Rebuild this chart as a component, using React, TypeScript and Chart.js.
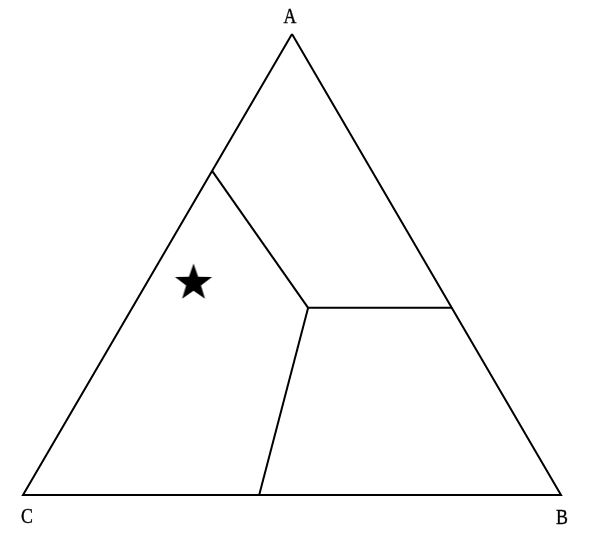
import React, { useEffect, useRef } from "react";
import { Chart, registerables } from "chart.js";

Chart.register(...registerables);

// Vertex labels of the ternary diagram (order: A top, B bottom-right, C bottom-left)
const vertexLabels = ["A", "B", "C"];
// Ternary compositions [a, b, c]
const vertices: number[][] = [
  [1, 0, 0],
  [0, 1, 0],
  [0, 0, 1],
];
// Triple junction of the phase boundaries
const junction: number[] = [0.406, 0.327, 0.267];
// End points of the three boundaries on the triangle edges
const boundaryEnds: number[][] = [
  [0.703, 0, 0.297],
  [0.406, 0.594, 0],
  [0, 0.439, 0.561],
];
// Starred composition
const starPoint: number[] = [0.46, 0.087, 0.453];

const H = Math.sqrt(3) / 2;

function toXY(p: number[]) {
  const [a, b, c] = p;
  const s = a + b + c;
  return { x: (b + a / 2) / s, y: (a * H) / s };
}

function makeStar(): HTMLCanvasElement {
  const size = 44;
  const cv = document.createElement("canvas");
  cv.width = size;
  cv.height = size;
  const ctx = cv.getContext("2d")!;
  const cx = size / 2;
  const cy = size / 2;
  const R = 19.5;
  const r = R * 0.4;
  ctx.beginPath();
  for (let i = 0; i < 10; i++) {
    const ang = -Math.PI / 2 + (i * Math.PI) / 5;
    const rad = i % 2 === 0 ? R : r;
    const px = cx + rad * Math.cos(ang);
    const py = cy + rad * Math.sin(ang);
    if (i === 0) ctx.moveTo(px, py);
    else ctx.lineTo(px, py);
  }
  ctx.closePath();
  ctx.fillStyle = "#000";
  ctx.fill();
  return cv;
}

const labelOffsets = [
  { dx: -2, dy: -17 },
  { dx: 1, dy: 23 },
  { dx: 4, dy: 22 },
];

const vertexLabelPlugin = {
  id: "vertexLabels",
  afterDatasetsDraw(chart: any) {
    const { ctx, scales } = chart;
    ctx.save();
    ctx.fillStyle = "#000";
    ctx.font = "500 21px 'Liberation Serif', serif";
    ctx.textAlign = "center";
    ctx.textBaseline = "middle";
    vertexLabels.forEach((lab, i) => {
      const p = toXY(vertices[i]);
      const px = scales.x.getPixelForValue(p.x) + labelOffsets[i].dx;
      const py = scales.y.getPixelForValue(p.y) + labelOffsets[i].dy;
      ctx.save();
      ctx.translate(px, py);
      ctx.scale(0.85, 1);
      ctx.fillText(lab, 0, 0);
      ctx.lineWidth = 0.4;
      ctx.strokeStyle = "#000";
      ctx.strokeText(lab, 0, 0);
      ctx.restore();
    });
    ctx.restore();
  },
};

export default function App() {
  const ref = useRef<HTMLCanvasElement | null>(null);

  useEffect(() => {
    if (!ref.current) return;
    const lineStyle = {
      showLine: true,
      pointRadius: 0,
      borderColor: "#000",
      borderWidth: 2,
      fill: false,
      clip: false as any,
    };
    const datasets: any[] = [
      {
        ...lineStyle,
        data: [...vertices, vertices[0]].map(toXY),
      },
      ...boundaryEnds.map((e) => ({
        ...lineStyle,
        data: [toXY(junction), toXY(e)],
      })),
      {
        data: [toXY(starPoint)],
        showLine: false,
        pointStyle: makeStar(),
        pointRadius: 20,
        clip: false,
      },
    ];
    const chart = new Chart(ref.current, {
      type: "scatter",
      data: { datasets },
      options: {
        animation: false,
        responsive: false,
        layout: { padding: { left: 23, right: 29, top: 34, bottom: 47 } },
        plugins: { legend: { display: false }, tooltip: { enabled: false } },
        scales: {
          x: { type: "linear", min: 0, max: 1, display: false },
          y: { type: "linear", min: 0, max: H, display: false },
        },
      },
      plugins: [vertexLabelPlugin],
    });
    return () => chart.destroy();
  }, []);

  return (
    <div style={{ position: "absolute", left: 0, top: 0, width: 590, height: 542, background: "#fff" }}>
      <canvas ref={ref} width={590} height={542} style={{ display: "block" }} />
    </div>
  );
}
